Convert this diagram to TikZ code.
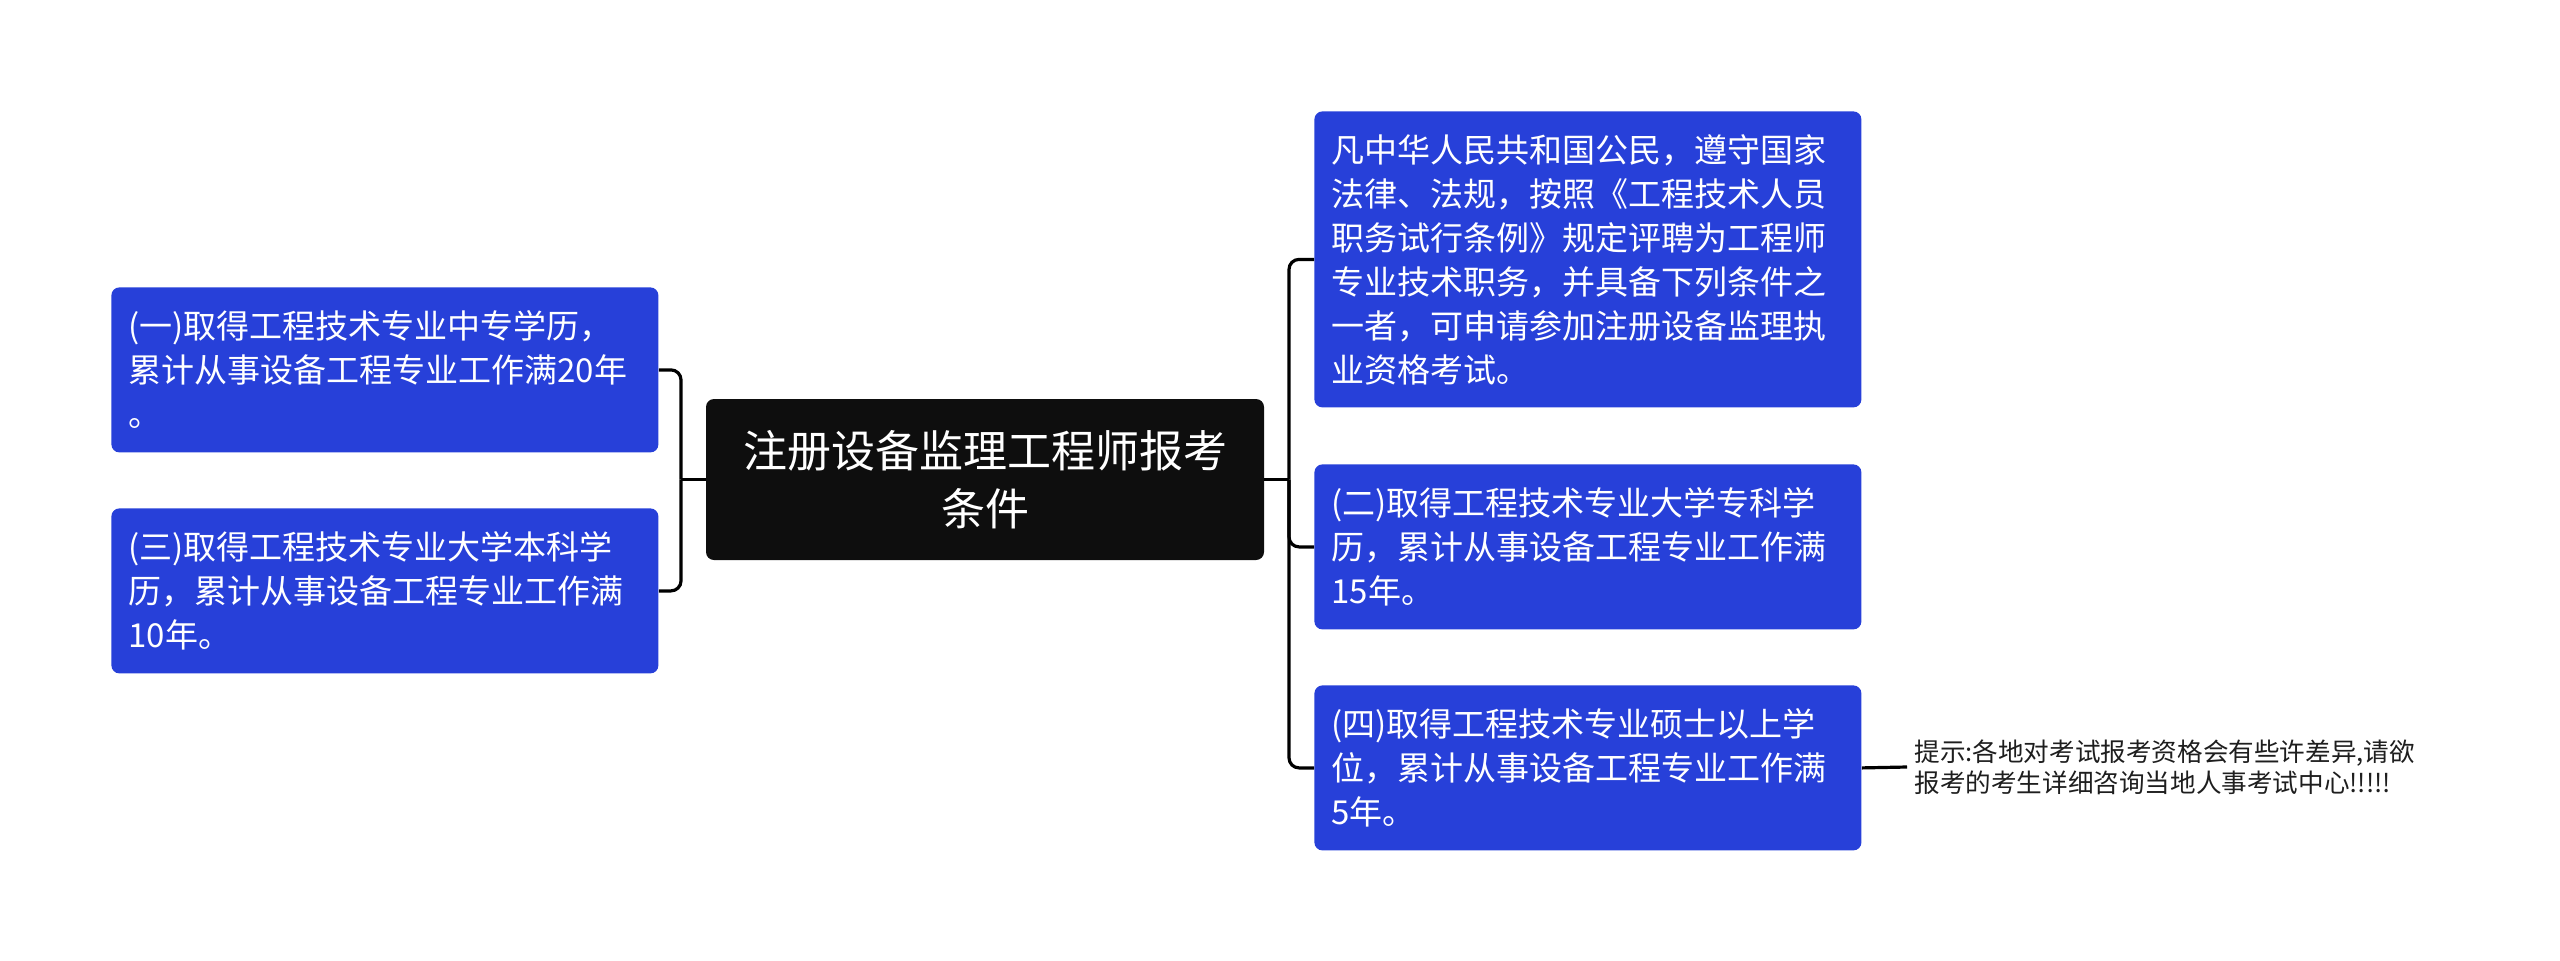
\documentclass[tikz,border=0pt]{standalone}
\usepackage{fontspec}
\setmainfont{Noto Sans CJK SC}
\usepackage{tikz}

\definecolor{boxblue}{HTML}{2740D9}
\definecolor{rootblack}{HTML}{0E0E0E}
\definecolor{tipgray}{HTML}{1E1E1E}

\tikzset{
  cbox/.style={fill=boxblue, text=white, rounded corners=4pt, anchor=north west,
    text width=256.5pt, inner xsep=8.5pt, inner ysep=0pt, minimum height=82.5pt,
    align=left, font=\fontsize{16.5}{22}\selectfont},
  rootbox/.style={fill=rootblack, text=white, rounded corners=4pt,
    minimum width=279pt, minimum height=80.5pt, inner sep=0pt,
    align=center, font=\fontsize{22}{29}\selectfont},
  tipnote/.style={anchor=west, text=tipgray, inner xsep=3.5pt, inner ysep=0pt,
    align=left, font=\fontsize{12.8}{15.5}\selectfont},
  link/.style={draw=black, line width=1.6pt}
}

\begin{document}
\begin{tikzpicture}[x=0.5pt,y=-0.5pt]
\useasboundingbox (0,0) rectangle (2560,960);

\node[rootbox] (root) at (985,479.5) {注册设备监理工程师报考\\条件};

\node[cbox] (cond1) at (111,287) {(一)取得工程技术专业中专学历，\\累计从事设备工程专业工作满20年\\。};
\node[cbox] (cond3) at (111,508) {(三)取得工程技术专业大学本科学\\历，累计从事设备工程专业工作满\\10年。};

\node[cbox,minimum height=148pt] (intro) at (1314,111) {凡中华人民共和国公民，遵守国家\\法律、法规，按照《工程技术人员\\职务试行条例》规定评聘为工程师\\专业技术职务，并具备下列条件之\\一者，可申请参加注册设备监理执\\业资格考试。};
\node[cbox] (cond2) at (1314,464) {(二)取得工程技术专业大学专科学\\历，累计从事设备工程专业工作满\\15年。};
\node[cbox] (cond4) at (1314,685) {(四)取得工程技术专业硕士以上学\\位，累计从事设备工程专业工作满\\5年。};

\node[tipnote] (tip) at (1907,767) {提示:各地对考试报考资格会有些许差异,请欲\\报考的考生详细咨询当地人事考试中心!!!!!};

\coordinate (ltrunk) at (681,479.5);
\coordinate (rtrunk) at (1289,479.5);

\draw[link] (root.west) -- (ltrunk);
\draw[link,rounded corners=5pt] (ltrunk) |- (cond1.east);
\draw[link,rounded corners=5pt] (ltrunk) |- (cond3.east);

\draw[link] (root.east) -- (rtrunk);
\draw[link,rounded corners=5pt] (rtrunk) |- (intro.west);
\draw[link,rounded corners=5pt] (rtrunk) |- (cond2.west);
\draw[link,rounded corners=5pt] (rtrunk) |- (cond4.west);

\draw[link] (cond4.east) -- (tip.west);

\end{tikzpicture}
\end{document}
